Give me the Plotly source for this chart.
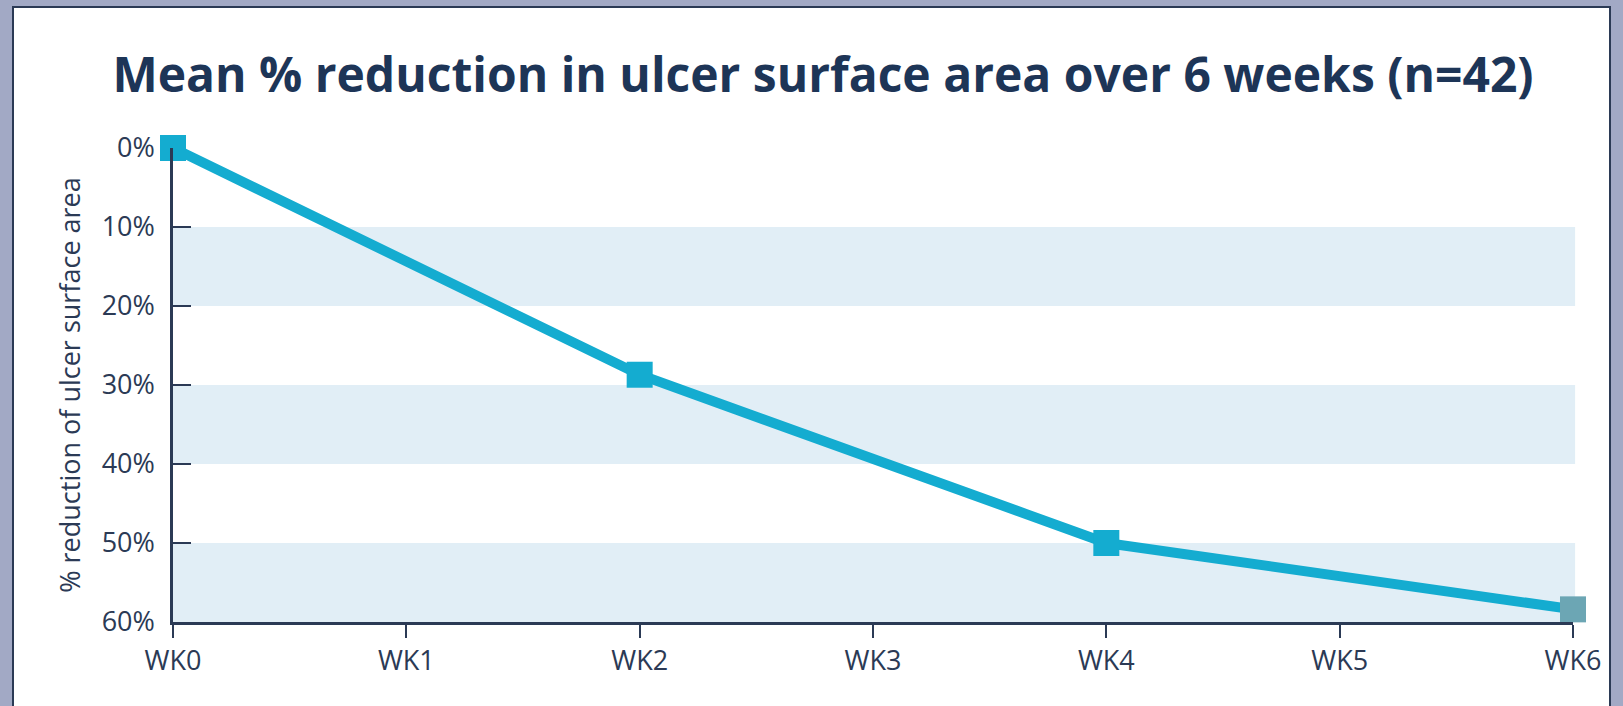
import plotly.graph_objects as go

weeks = [0, 2, 4, 6]
reduction = [0, 28.7, 50, 58.4]
point_colors = ["#14acd0", "#14acd0", "#14acd0", "#6ca6b4"]
tick_weeks = [0, 1, 2, 3, 4, 5, 6]
tick_labels = ["WK0", "WK1", "WK2", "WK3", "WK4", "WK5", "WK6"]
y_ticks = [0, 10, 20, 30, 40, 50, 60]
y_labels = ["0%", "10%", "20%", "30%", "40%", "50%", "60%"]
bands = [(10, 20), (30, 40), (50, 60)]

NAVY = "#1d3557"
AXIS = "#2b3a55"
W, H = 1623, 706
L, R, T, B = 173, 50, 148, 84
pw, ph = W - L - R, H - T - B

def px_x(p):
    return (p - L) / pw

def px_y(p):
    return (H - B - p) / ph

fig = go.Figure()
fig.add_trace(go.Scatter(
    x=weeks, y=reduction, mode="lines+markers",
    line=dict(color="#14acd0", width=10),
    marker=dict(symbol="square", size=26, color=point_colors, line=dict(width=0)),
    cliponaxis=False, showlegend=False, hoverinfo="skip",
))

shapes = [
    dict(type="rect", xref="paper", yref="paper",
         x0=px_x(13), x1=px_x(1610), y0=px_y(7), y1=px_y(740),
         fillcolor="white", line=dict(color=AXIS, width=2), layer="below"),
]
for a, b in bands:
    shapes.append(dict(type="rect", xref="paper", yref="y", x0=0, x1=1.0015,
                       y0=a, y1=b, fillcolor="#e1eef6", line=dict(width=0), layer="below"))

fig.update_layout(
    width=W, height=H,
    margin=dict(l=L, r=R, t=T, b=B, autoexpand=False),
    paper_bgcolor="#a2a9c5", plot_bgcolor="rgba(0,0,0,0)",
    shapes=shapes,
    title=dict(text="<b>Mean % reduction in ulcer surface area over 6 weeks (n=42)</b>",
               x=823 / W, xanchor="center",
               y=(H - 75) / H, yanchor="middle",
               font=dict(family="Open Sans", size=48, color=NAVY)),
    font=dict(family="Open Sans", color=AXIS, size=23),
    xaxis=dict(
        range=[0, 6], tickmode="array", tickvals=tick_weeks, ticktext=tick_labels,
        showgrid=False, zeroline=False, showline=True, linecolor=AXIS, linewidth=2.5,
        ticks="outside", ticklen=13, tickwidth=2, tickcolor=AXIS,
        tickfont=dict(family="Open Sans", size=27, color=AXIS),
    ),
    yaxis=dict(
        range=[60, 0], tickmode="array", tickvals=y_ticks, ticktext=y_labels,
        showgrid=False, zeroline=False, showline=True, linecolor=AXIS, linewidth=2.5,
        ticks="inside", ticklen=18, tickwidth=2, tickcolor=AXIS,
        ticklabelstandoff=10,
        tickfont=dict(family="Open Sans", size=27, color=AXIS),
        title=dict(text="% reduction of ulcer surface area",
                   font=dict(family="Open Sans", size=27, color=AXIS), standoff=14),
    ),
)
fig.write_html("out.html", config={"displayModeBar": False},
               post_script="document.body.style.margin='0';")
